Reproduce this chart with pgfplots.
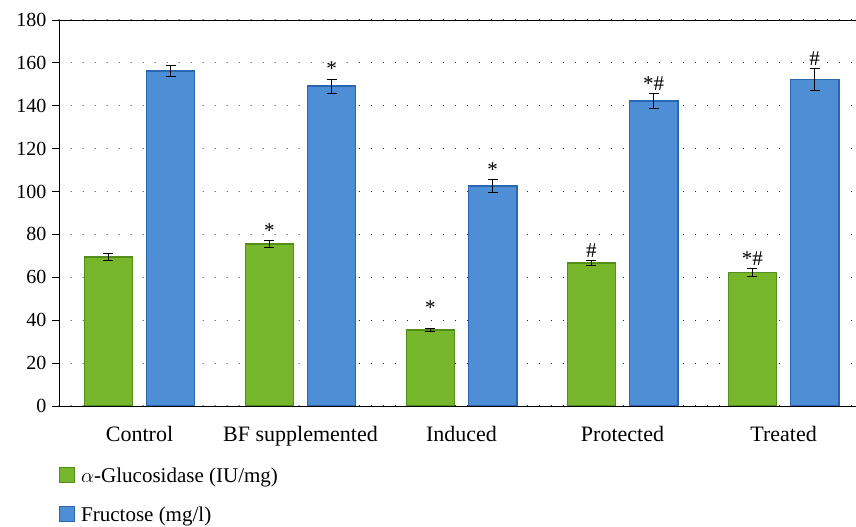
\documentclass[border=0pt]{standalone}
\usepackage{fontspec}
\setmainfont{Liberation Serif}
\usepackage{pgfplots}
\pgfplotsset{compat=1.18}
\definecolor{gdark}{RGB}{82,142,25}
\definecolor{gmid}{RGB}{118,182,42}
\definecolor{bdark}{RGB}{42,102,178}
\definecolor{bmid}{RGB}{78,142,212}
\begin{document}
\begin{tikzpicture}
\begin{axis}[
  name=ax,
  scale only axis,
  width=797pt, height=386pt,
  xmin=-0.5, xmax=4.45,
  ymin=0, ymax=180,
  ytick={0,20,...,180},
  yticklabels={0,20,40,60,80,100,120,140,160,180},
  xtick={0,1,2,3,4},
  xticklabels={Control,BF supplemented,Induced,Protected,Treated},
  extra x ticks={0.5,1.5,2.5,3.5},
  extra x tick labels={},
  extra x tick style={major tick length=6pt, tick style={black, line width=0.8pt}},
  major x tick style={draw=none},
  axis x line*=bottom,
  axis y line*=left,
  axis line style={black, line width=0.9pt, -},
  tick align=outside,
  ytick style={black, line width=0.8pt},
  major tick length=7pt,
  ymajorgrids,
  grid style={black, line width=1pt, dash pattern=on 0.01pt off 12pt, line cap=round},
  every y tick label/.append style={font=\fontsize{20}{22}\selectfont, xshift=-2pt},
  every x tick label/.append style={font=\fontsize{22}{26}\selectfont, yshift=-10pt},
  ybar,
  bar width=0.30,
  legend style={at={(0,-0.155)}, anchor=north west, draw=none,
    font=\fontsize{21}{25}\selectfont, row sep=19pt, legend cell align=left,
    inner sep=0pt, nodes={inner xsep=6pt}},
  legend image code/.code={\draw[#1, line width=1pt] (0.5pt,-6.5pt) rectangle (15.5pt,8.5pt);},
  error bars/error bar style={black, line width=0.8pt},
  error bars/error mark options={rotate=90, black, mark size=5pt, line width=0.8pt},
]
\addplot[bar shift=-0.193, fill=gmid, draw=gdark, line width=1.5pt,
  error bars/.cd, y dir=both, y explicit]
  coordinates {(0,69.5) +- (0,1.5) (1,75.5) +- (0,1.5) (2,35.4) +- (0,0.8) (3,66.7) +- (0,1.0) (4,62.3) +- (0,2.0)};
\addplot[bar shift=0.193, fill=bmid, draw=bdark, line width=1.5pt,
  error bars/.cd, y dir=both, y explicit]
  coordinates {(0,156.2) +- (0,2.5) (1,149.2) +- (0,3.2) (2,102.5) +- (0,3.0) (3,142.3) +- (0,3.3) (4,152.2) +- (0,5.0)};
\legend{$\alpha$-Glucosidase (IU/mg), Fructose (mg/l)}
\draw[black, line width=0.9pt] (rel axis cs:0,1) -- (rel axis cs:1,1);
\begin{scope}[every node/.style={font=\fontsize{21}{24}\selectfont, anchor=south, inner sep=1pt}]
\node at (axis cs:0.807,78) {*};
\node at (axis cs:1.193,153.5) {*};
\node at (axis cs:1.807,42) {*};
\node at (axis cs:2.193,106.5) {*};
\node at (axis cs:2.807,68.5) {\#};
\node at (axis cs:3.193,146.5) {*\#};
\node at (axis cs:3.807,65) {*\#};
\node at (axis cs:4.193,158) {\#};
\end{scope}
\end{axis}
\pgfresetboundingbox
\path ([xshift=-59pt,yshift=-121pt]ax.south west) rectangle ([yshift=20pt]ax.north east);
\end{tikzpicture}
\end{document}
